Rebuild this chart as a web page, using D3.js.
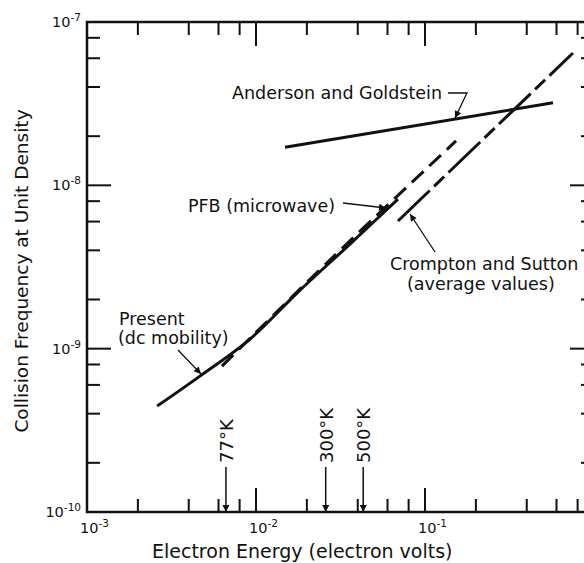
<!DOCTYPE html>
<html>
<head>
<meta charset="utf-8">
<script src="https://cdn.jsdelivr.net/npm/d3@7"></script>
<style>
  body { margin: 0; background: #fff; }
  svg text { font-family: "DejaVu Sans", sans-serif; fill: #111; }
</style>
</head>
<body>
<div id="chart"></div>
<script>
// ---- data ----
var xMajor = [1e-3, 1e-2, 1e-1, 1];
var xExp = ['-3', '-2', '-1'];
var yMajor = [1e-10, 1e-9, 1e-8, 1e-7];
var yExp = ['-10', '-9', '-8', '-7'];
var minorMult = [2, 4, 6, 8];

// Present (dc mobility)
var presentE = [2.60e-3, 4.66e-3, 9.22e-3, 1.772e-2, 3.60e-2, 6.92e-2];
var presentNu = [4.45e-10, 6.79e-10, 1.145e-9, 2.22e-9, 4.37e-9, 8.24e-9];
// PFB (microwave)
var pfbE = [6.29e-3, 2.855e-2, 0.1526];
var pfbNu = [7.82e-10, 3.64e-9, 1.87e-8];
// Crompton and Sutton (average values)
var csE = [6.92e-2, 0.751];
var csNu = [6.05e-9, 6.46e-8];
// Anderson and Goldstein
var agE = [1.485e-2, 0.572];
var agNu = [1.71e-8, 3.20e-8];

// temperature markers (kT in eV)
var tempLabels = ['77°K', '300°K', '500°K'];
var tempE = [0.00664, 0.02585, 0.0431];

// ---- layout ----
var W = 584, H = 563;
var plot = { left: 87, right: 594, top: 22, bottom: 512 };
var majorLen = 24, minorLen = 13;

var svg = d3.select('#chart').append('svg')
    .attr('width', W).attr('height', H);

var x = d3.scaleLog().domain([1e-3, 1]).range([plot.left, plot.right]);
var y = d3.scaleLog().domain([1e-10, 1e-7]).range([plot.bottom, plot.top]);

var defs = svg.append('defs');
defs.append('marker')
    .attr('id', 'arrow')
    .attr('viewBox', '0 0 10 10')
    .attr('refX', 10).attr('refY', 5)
    .attr('markerWidth', 9).attr('markerHeight', 7)
    .attr('markerUnits', 'userSpaceOnUse')
    .attr('orient', 'auto')
    .append('path')
    .attr('d', 'M0,0 L10,5 L0,10 z')
    .attr('fill', '#111');

// ---- frame ----
svg.append('rect')
    .attr('x', plot.left).attr('y', plot.top)
    .attr('width', plot.right - plot.left).attr('height', plot.bottom - plot.top)
    .attr('fill', 'none').attr('stroke', '#111').attr('stroke-width', 2.5);

var xMinor = [], yMinor = [];
xMajor.slice(0, -1).forEach(function(d) { minorMult.forEach(function(m) { xMinor.push(d * m); }); });
yMajor.slice(0, -1).forEach(function(d) { minorMult.forEach(function(m) { yMinor.push(d * m); }); });

var ticks = svg.append('g').attr('stroke', '#111').attr('stroke-width', 2);
function xTick(v, len) {
    ticks.append('line').attr('x1', x(v)).attr('x2', x(v)).attr('y1', plot.bottom).attr('y2', plot.bottom - len);
    ticks.append('line').attr('x1', x(v)).attr('x2', x(v)).attr('y1', plot.top).attr('y2', plot.top + len);
}
function yTick(v, len) {
    ticks.append('line').attr('y1', y(v)).attr('y2', y(v)).attr('x1', plot.left).attr('x2', plot.left + len);
    ticks.append('line').attr('y1', y(v)).attr('y2', y(v)).attr('x1', plot.right).attr('x2', plot.right - len);
}
xMajor.slice(1, -1).forEach(function(v) { xTick(v, majorLen); });
xMinor.forEach(function(v) { xTick(v, minorLen); });
yMajor.slice(1, -1).forEach(function(v) { yTick(v, majorLen); });
yMinor.forEach(function(v) { yTick(v, minorLen); });

// tick labels
xMajor.slice(0, -1).forEach(function(v, i) {
    var t = svg.append('text')
        .attr('x', x(v) - 7).attr('y', 533)
        .style('font-size', '14.5px');
    t.append('tspan').text('10');
    t.append('tspan').attr('dy', -6).style('font-size', '10.5px').text(xExp[i]);
});
yMajor.forEach(function(v, i) {
    var t = svg.append('text')
        .attr('x', 81).attr('y', y(v) + 5)
        .attr('text-anchor', 'end')
        .style('font-size', '14.5px');
    t.append('tspan').text('10');
    t.append('tspan').attr('dy', -6).style('font-size', '10.5px').text(yExp[i]);
});

// axis titles
svg.append('text')
    .attr('x', 152).attr('y', 558)
    .style('font-size', '19px')
    .text('Electron Energy (electron volts)');
svg.append('text')
    .attr('transform', 'translate(28,' + ((plot.top + plot.bottom) / 2 + 4) + ') rotate(-90)')
    .attr('text-anchor', 'middle')
    .style('font-size', '18.5px')
    .text('Collision Frequency at Unit Density');

// ---- curves ----
function series(es, ns) { return es.map(function(e, i) { return [e, ns[i]]; }); }
var line = d3.line().x(function(d) { return x(d[0]); }).y(function(d) { return y(d[1]); });
var curved = d3.line().x(function(d) { return x(d[0]); }).y(function(d) { return y(d[1]); })
    .curve(d3.curveCatmullRom.alpha(0.5));

var curves = svg.append('g').attr('fill', 'none').attr('stroke', '#111').attr('stroke-width', 3);
curves.append('path').attr('d', curved(series(presentE, presentNu)));
curves.append('path').attr('d', curved(series(pfbE, pfbNu))).attr('stroke-dasharray', '16,8');
curves.append('path').attr('d', line(series(csE, csNu))).attr('stroke-dasharray', '44,6,14,6');
curves.append('path').attr('d', line(series(agE, agNu)));

// ---- temperature arrows ----
tempE.forEach(function(e, i) {
    svg.append('line')
        .attr('x1', x(e)).attr('x2', x(e))
        .attr('y1', 467).attr('y2', plot.bottom)
        .attr('stroke', '#111').attr('stroke-width', 1.5)
        .attr('marker-end', 'url(#arrow)');
    svg.append('text')
        .attr('transform', 'translate(' + (x(e) + 7) + ',463) rotate(-90)')
        .style('font-size', '18px')
        .text(tempLabels[i]);
});

// ---- annotations ----
function note(lines, xs, ys, size) {
    lines.forEach(function(s, i) {
        svg.append('text').attr('x', xs[i]).attr('y', ys[i])
            .style('font-size', size + 'px').text(s);
    });
}
function leader(pts) {
    svg.append('path')
        .attr('d', d3.line()(pts))
        .attr('fill', 'none').attr('stroke', '#111').attr('stroke-width', 1.3)
        .attr('marker-end', 'url(#arrow)');
}
note(['Anderson and Goldstein'], [232], [99], 17.5);
leader([[448, 93], [467, 93], [455, 118]]);

note(['PFB (microwave)'], [188], [212], 17.5);
leader([[343, 203], [386, 208]]);

note(['Present', '(dc mobility)'], [119, 118], [325, 344], 17.5);
leader([[178, 350], [201, 374]]);

note(['Crompton and Sutton', '(average values)'], [390, 407], [270, 290], 17.5);
leader([[435, 252], [410, 214]]);
</script>
</body>
</html>
